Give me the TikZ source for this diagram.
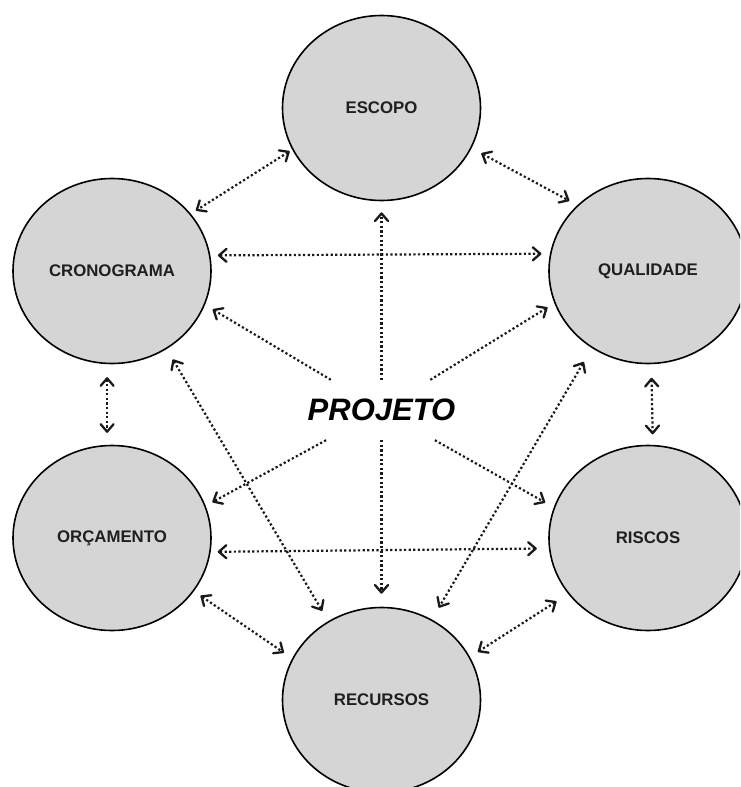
\documentclass[tikz,border=0pt]{standalone}
\usepackage{fontspec}
\setmainfont{Liberation Sans}
\usetikzlibrary{shapes.geometric,arrows.meta}

\definecolor{discfill}{HTML}{D5D5D5}
\definecolor{dotline}{HTML}{1A1A1A}

\tikzset{
  area/.style={ellipse, draw=black, line width=1.6pt, fill=discfill,
    minimum width=198pt, minimum height=185pt, inner sep=0pt,
    font=\bfseries\fontsize{16.8}{18}\selectfont, text=black!88},
  hub/.style={inner sep=0pt, minimum height=60pt,
    font=\bfseries\itshape\fontsize{31}{34}\selectfont, text=black},
  barb/.tip={Straight Barb[length=7.5pt,width=13pt,line width=2.3pt,round]},
  dots/.style={draw=dotline, line width=2.2pt, dash pattern=on 2.2pt off 2.4pt},
  link/.style={dots, barb-barb},
  ray/.style={dots, -barb},
}

\begin{document}
\begin{tikzpicture}[x=1pt,y=-1pt]
  \useasboundingbox (0,0) rectangle (740,787);
  \clip (0,0) rectangle (740,787);

  % the six areas around the project
  \node[area] (esc) at (381.5,108) {ESCOPO};
  \node[area] (cro) at (112,271)   {CRONOGRAMA};
  \node[area] (qua) at (648,271)   {QUALIDADE};
  \node[area] (orc) at (112,538)   {ORÇAMENTO};
  \node[area] (ris) at (648,538)   {RISCOS};
  \node[area] (rec) at (381.5,700) {RECURSOS};

  % the project in the middle
  \node[hub] (proj) at (381.5,410) {PROJETO};

  % rays from the project to every area
  \draw[ray, shorten >=11pt]  (proj) -- (esc.south);
  \draw[ray, shorten >=8.9pt] (proj) -- (cro.340.4);
  \draw[ray, shorten >=8pt]   (proj) -- (qua.199.8);
  \draw[ray, shorten >=7.6pt] (proj) -- (orc.19.3);
  \draw[ray, shorten >=9.8pt] (proj) -- (ris.162.2);
  \draw[ray, shorten >=13pt]  (proj) -- (rec.north);

  % links between neighbouring areas
  \draw[link, shorten <=3pt,  shorten >=6pt]   (esc.205.3) -- (cro.36.3);
  \draw[link, shorten <=11pt, shorten >=9pt]   (esc.336.3) -- (qua.137.7);
  \draw[link, shorten <=7.5pt, shorten >=8.5pt] (cro.9.2) -- (qua.170.9);
  \draw[link, shorten <=13pt, shorten >=12pt]  (cro.267) -- (orc.93);
  \draw[link, shorten <=13.5pt, shorten >=10.5pt] (qua.272.5) -- (ris.87.5);
  \draw[link, shorten <=12pt, shorten >=12pt]  (cro.305.3) -- (rec.124.7);
  \draw[link, shorten <=16pt, shorten >=13.7pt] (qua.234.9) -- (rec.58.2);
  \draw[link, shorten <=7pt,  shorten >=12pt]  (orc.352.9) -- (ris.186.7);
  \draw[link, shorten <=8pt,  shorten >=10pt]  (orc.327.1) -- (rec.155.3);
  \draw[link, shorten <=13.8pt, shorten >=9.3pt] (ris.215.4) -- (rec.26.1);
\end{tikzpicture}
\end{document}
